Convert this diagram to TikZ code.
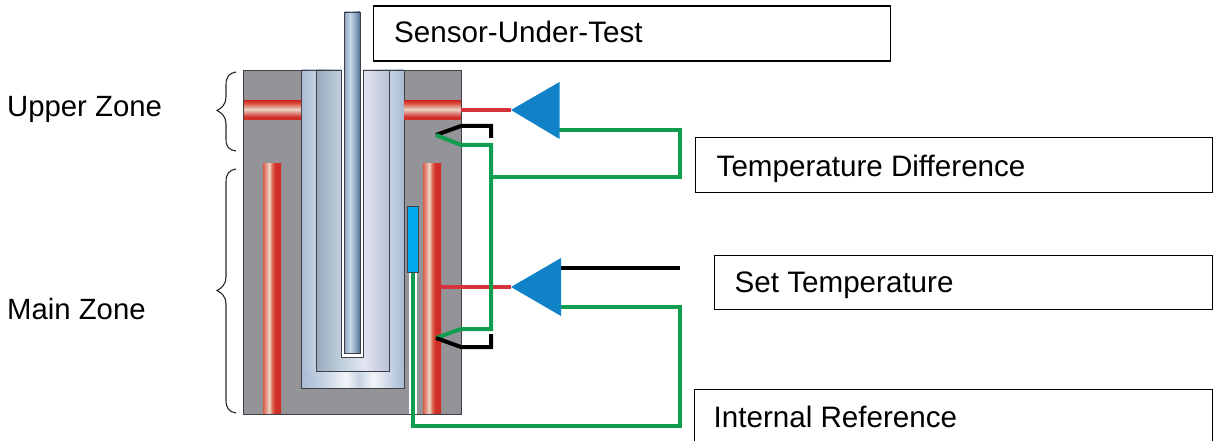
\documentclass[tikz,border=0pt]{standalone}
\usepackage{fontspec}
\setmainfont{Liberation Sans}
\definecolor{blockgrey}{HTML}{949397}
\definecolor{edge}{HTML}{3F4045}
\definecolor{wiregreen}{HTML}{0F9D4F}
\definecolor{wirered}{HTML}{D5343C}
\definecolor{ampblue}{HTML}{0F82C8}
\definecolor{refblue}{HTML}{00A9EC}
\definecolor{hr}{HTML}{CF2F27}
\definecolor{hw}{HTML}{EBD5C8}
\definecolor{hm}{HTML}{DB5A46}
\pgfdeclarehorizontalshading{heaterh}{100bp}{color(0bp)=(hm); color(25bp)=(hm); color(42bp)=(hw); color(52bp)=(hm); color(60bp)=(hr); color(100bp)=(hr)}
\pgfdeclareverticalshading{heaterv}{100bp}{color(0bp)=(hr); color(33bp)=(hr); color(53bp)=(hw); color(68bp)=(hm); color(75bp)=(hr); color(100bp)=(hr)}
\definecolor{sa}{HTML}{A9BBD4}
\definecolor{sb}{HTML}{C6D3E3}
\definecolor{sc}{HTML}{9AA8BC}
\definecolor{sd}{HTML}{BFCFDD}
\definecolor{se}{HTML}{E3E5F0}
\definecolor{sf}{HTML}{B9C2D8}
\pgfdeclarehorizontalshading{slvbottom}{100bp}{color(0bp)=(sa); color(25bp)=(sa); color(36bp)=(sb); color(47bp)=(white!85!sa); color(53bp)=(sb); color(60bp)=(white!85!sa); color(75bp)=(sa); color(100bp)=(sa)}
\pgfdeclarehorizontalshading{slvinnerbottom}{100bp}{color(0bp)=(sc); color(25bp)=(sc); color(42bp)=(sd); color(58bp)=(se); color(75bp)=(sf); color(100bp)=(sf)}
\pgfdeclarehorizontalshading{slvouterL}{100bp}{color(0bp)=(sa); color(25bp)=(sa); color(75bp)=(sb); color(100bp)=(sb)}
\pgfdeclarehorizontalshading{slvouterR}{100bp}{color(0bp)=(sb); color(25bp)=(sb); color(75bp)=(sa); color(100bp)=(sa)}
\pgfdeclarehorizontalshading{slvinnerL}{100bp}{color(0bp)=(sc); color(25bp)=(sc); color(75bp)=(sd); color(100bp)=(sd)}
\pgfdeclarehorizontalshading{slvinnerR}{100bp}{color(0bp)=(se); color(25bp)=(se); color(75bp)=(sf); color(100bp)=(sf)}
\definecolor{pa}{HTML}{8FA6C2}
\definecolor{pb}{HTML}{C4D8E8}
\definecolor{pc}{HTML}{4F6E96}
\pgfdeclarehorizontalshading{probe}{100bp}{color(0bp)=(pa); color(25bp)=(pa); color(43bp)=(pb); color(60bp)=(pa); color(75bp)=(pc); color(100bp)=(pc)}
\tikzset{
  textbox/.style={draw=black,line width=1.4pt,fill=white,anchor=north west,inner sep=0pt},
  boxtext/.style={anchor=base west,inner sep=0pt,font=\fontsize{29.6}{32}\selectfont},
  zonetext/.style={anchor=base west,inner sep=0pt,font=\fontsize{29.3}{32}\selectfont},
  wire/.style={line width=4pt,line join=miter},
  green wire/.style={wire,draw=wiregreen},
  black wire/.style={wire,draw=black},
  red wire/.style={line width=3.5pt,draw=wirered},
  amp/.style={fill=ampblue,draw=none},
  part/.style={draw=edge,line width=.9pt},
  zonebrace/.style={draw=black!85,line width=1.1pt},
}
\begin{document}
\begin{tikzpicture}[x=1pt,y=-1pt]
\useasboundingbox (0,0) rectangle (1224,441);
% block
\fill[blockgrey] (243.5,70) rectangle (461,414);
\draw[part] (243.5,70) rectangle (461,414);
% sleeves
\path[shading=slvouterL] (301.5,70) rectangle (316,372);
\path[shading=slvouterR] (389,70) rectangle (403.5,372);
\path[shading=slvbottom] (301.5,371) rectangle (403.5,387.5);
\path[shading=slvinnerL] (316,70) rectangle (341,358);
\path[shading=slvinnerR] (363,70) rectangle (389,358);
\path[shading=slvinnerbottom] (316,357) rectangle (389,371);
\draw[part] (301,70) -- (301,388) -- (404,388) -- (404,70);
\draw[part] (316,70) -- (316,371) -- (389,371) -- (389,70);
\draw[part] (301,70) -- (341,70);
\draw[part] (363,70) -- (404,70);
\fill[white] (341,60) rectangle (363,357);
\draw[part] (341,70) -- (341,357) -- (363,357) -- (363,70);
% probe
\path[shading=probe] (344.5,12) rectangle (360,353);
\draw[part] (344.5,12) rectangle (360,353);
% heaters
\path[shading=heaterv] (244,101) rectangle (301,120);
\path[shading=heaterv] (404,101) rectangle (460.5,120);
\path[shading=heaterh] (263,164) rectangle (281,413.5);
\path[shading=heaterh] (423,164) rectangle (441,413.5);
% coordinates
\coordinate (ampUtip) at (511,110);
\coordinate (ampUtop) at (559.5,82);
\coordinate (ampUbot) at (559.5,139);
\coordinate (ampLtip) at (511,287);
\coordinate (ampLtop) at (561,258);
\coordinate (ampLbot) at (561,316);
\coordinate (tcU) at (436,135);
\coordinate (tcL) at (436,338);
\coordinate (heatU) at (461,110);
\coordinate (heatL) at (441,287);
\coordinate (bus) at (491,177);
\coordinate (setEnd) at (680,268);
% reference element and its wire
\draw[white,line width=8pt] (412.5,272) -- (412.5,414);
\draw[green wire] (412.5,272) -- (412.5,425.5) -- (680,425.5) -- (680,306.5) -- (561,306.5);
\node[draw=edge,line width=.9pt,fill=refblue,minimum width=11pt,minimum height=66pt,inner sep=0pt,anchor=north west] (ref) at (407,206) {};
% wires
\draw[red wire] (heatU) -- (ampUtip);
\draw[red wire] (heatL) -- (ampLtip);
\draw[black wire] (tcU) -- (461,126) -- (491,126) -- (491,138);
\draw[green wire] (tcU) -- (461,145) -- (491,145) -- (491,329) -- (461,329) -- (tcL);
\draw[black wire] (tcL) -- (461,347) -- (491,347) -- (491,334);
\draw[green wire] (559,130.5) -- (680,130.5) -- (680,177) -- (bus);
\draw[black wire] (561,268) -- (setEnd);
% amplifiers
\fill[amp] (ampUtip) -- (ampUtop) -- (ampUbot) -- cycle;
\fill[amp] (ampLtip) -- (ampLtop) -- (ampLbot) -- cycle;
% braces
\draw[zonebrace] (236,72) .. controls (229,73) and (226,77) .. (226,85) -- (226,97) .. controls (226,104) and (222,108) .. (217,110.5) .. controls (222,113) and (226,117) .. (226,124) -- (226,139) .. controls (226,147) and (229,150) .. (236,151);
\draw[zonebrace] (236,169) .. controls (229,170) and (226,174) .. (226,182) -- (226,277) .. controls (226,284) and (222,288) .. (217,290.5) .. controls (222,293) and (226,297) .. (226,304) -- (226,400) .. controls (226,408) and (229,412) .. (236,413);
% text boxes
\node[textbox,minimum width=517pt,minimum height=55pt] (sut) at (372.5,5.5) {};
\node[boxtext] (suttext) at (394,43) {Sensor-Under-Test};
\node[textbox,minimum width=517pt,minimum height=55pt] (td) at (695,137) {};
\node[boxtext] (tdtext) at (716.5,176) {Temperature Difference};
\node[textbox,minimum width=498pt,minimum height=54pt] (st) at (714,255) {};
\node[boxtext] (sttext) at (734.5,292.5) {Set Temperature};
\node[textbox,minimum width=518pt,minimum height=60pt] (ir) at (694,389) {};
\node[boxtext] (irtext) at (713.5,427.5) {Internal Reference};
\node[zonetext] (uz) at (7,117) {Upper Zone};
\node[zonetext] (mz) at (7,319) {Main Zone};
\end{tikzpicture}
\end{document}
